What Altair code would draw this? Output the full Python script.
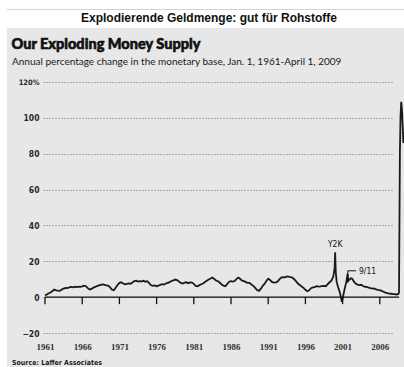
import altair as alt
import pandas as pd

# Annual % change in the U.S. monetary base, quarterly readings
# (with extra readings around the Y2K, 9/11 and 2008 spikes)
years = [
    1961.00, 1961.25, 1961.50, 1961.75, 1962.00, 1962.25, 1962.50, 1962.75,
    1963.00, 1963.25, 1963.50, 1963.75, 1964.00, 1964.25, 1964.50, 1964.75,
    1965.00, 1965.25, 1965.50, 1965.75, 1966.00, 1966.25, 1966.50, 1966.75,
    1967.00, 1967.25, 1967.50, 1967.75, 1968.00, 1968.25, 1968.50, 1968.75,
    1969.00, 1969.25, 1969.50, 1969.75, 1970.00, 1970.25, 1970.50, 1970.75,
    1971.00, 1971.25, 1971.50, 1971.75, 1972.00, 1972.25, 1972.50, 1972.75,
    1973.00, 1973.25, 1973.50, 1973.75, 1974.00, 1974.25, 1974.50, 1974.75,
    1975.00, 1975.25, 1975.50, 1975.75, 1976.00, 1976.25, 1976.50, 1976.75,
    1977.00, 1977.25, 1977.50, 1977.75, 1978.00, 1978.25, 1978.50, 1978.75,
    1979.00, 1979.25, 1979.50, 1979.75, 1980.00, 1980.25, 1980.50, 1980.75,
    1981.00, 1981.25, 1981.50, 1981.75, 1982.00, 1982.25, 1982.50, 1982.75,
    1983.00, 1983.25, 1983.50, 1983.75, 1984.00, 1984.25, 1984.50, 1984.75,
    1985.00, 1985.25, 1985.50, 1985.75, 1986.00, 1986.25, 1986.50, 1986.75,
    1987.00, 1987.25, 1987.50, 1987.75, 1988.00, 1988.25, 1988.50, 1988.75,
    1989.00, 1989.25, 1989.50, 1989.75, 1990.00, 1990.25, 1990.50, 1990.75,
    1991.00, 1991.25, 1991.50, 1991.75, 1992.00, 1992.25, 1992.50, 1992.75,
    1993.00, 1993.25, 1993.50, 1993.75, 1994.00, 1994.25, 1994.50, 1994.75,
    1995.00, 1995.25, 1995.50, 1995.75, 1996.00, 1996.25, 1996.50, 1996.75,
    1997.00, 1997.25, 1997.50, 1997.75, 1998.00, 1998.25, 1998.50, 1998.75,
    1999.00, 1999.25, 1999.50, 1999.75, 1999.92, 2000.00, 2000.08, 2000.20,
    2000.40, 2000.60, 2000.75, 2000.90, 2001.00, 2001.10, 2001.30, 2001.50,
    2001.67, 2001.75, 2001.90, 2002.10, 2002.30, 2002.50, 2002.75,
    2003.00, 2003.25, 2003.50, 2003.75, 2004.00, 2004.25, 2004.50, 2004.75,
    2005.00, 2005.25, 2005.50, 2005.75, 2006.00, 2006.25, 2006.50, 2006.75,
    2007.00, 2007.25, 2007.50, 2007.75, 2008.00, 2008.25, 2008.50, 2008.58,
    2008.64, 2008.70, 2008.78, 2008.88, 2009.00, 2009.08, 2009.17, 2009.25,
]
pct_change = [
    1.0, 1.5, 2.2, 2.6, 3.4, 4.2, 3.8, 3.6,
    3.5, 4.2, 4.8, 5.2, 5.0, 5.4, 5.7, 5.5,
    5.8, 5.6, 5.9, 5.7, 6.0, 6.4, 6.1, 5.0,
    4.3, 4.6, 5.3, 5.7, 6.2, 6.5, 6.8, 7.1,
    6.9, 6.6, 6.4, 5.4, 4.2, 3.9, 5.2, 6.8,
    8.0, 8.3, 7.6, 7.2, 7.4, 7.7, 7.5, 8.2,
    9.0, 9.2, 8.7, 8.9, 8.8, 9.1, 8.6, 8.9,
    7.8, 6.6, 6.3, 6.5, 6.0, 6.4, 6.9, 7.2,
    7.0, 7.6, 8.0, 8.4, 9.0, 9.4, 9.8, 9.5,
    8.7, 7.9, 7.6, 8.1, 8.3, 7.8, 8.2, 8.1,
    7.4, 6.3, 6.0, 6.7, 7.2, 7.6, 8.5, 9.2,
    9.8, 10.4, 10.9, 10.1, 9.3, 8.9, 8.0, 7.1,
    6.4, 6.1, 7.4, 8.6, 8.9, 8.7, 9.0, 10.2,
    10.9, 10.1, 9.2, 8.9, 8.4, 8.0, 7.9, 7.0,
    6.3, 5.2, 4.0, 3.5, 4.6, 6.2, 7.4, 9.0,
    10.3, 9.6, 8.5, 8.1, 8.3, 8.6, 9.9, 10.9,
    11.2, 11.0, 11.6, 11.4, 11.1, 10.9, 10.0, 8.8,
    7.6, 6.8, 5.9, 5.2, 4.1, 3.3, 3.8, 5.0,
    5.4, 5.6, 6.1, 5.9, 6.0, 6.2, 6.3, 6.1,
    7.2, 8.3, 9.2, 11.5, 16.0, 25.0, 14.0, 8.5,
    5.5, 3.0, 0.5, -2.6, -1.0, 1.2, 5.0, 8.5,
    13.0, 9.0, 9.8, 10.5, 10.2, 8.8, 7.6,
    7.0, 6.7, 6.9, 6.2, 5.8, 5.7, 5.3, 5.0,
    4.8, 4.9, 4.3, 4.0, 3.9, 3.5, 3.0, 2.5,
    2.3, 2.0, 1.9, 1.7, 1.7, 1.5, 1.8, 2.5,
    40.0, 80.0, 100.0, 109.0, 103.0, 95.0, 86.0, 92.0,
]

tick_years = [1961, 1966, 1971, 1976, 1981, 1986, 1991, 1996, 2001, 2006]
y_ticks = [-20, 0, 20, 40, 60, 80, 100, 120]

title_top = "Explodierende Geldmenge: gut für Rohstoffe"
headline = "Our Exploding Money Supply"
subhead = "Annual percentage change in the monetary base, Jan. 1, 1961-April 1, 2009"
source_note = "Source: Laffer Associates"

# annotation labels: text, year, value
y2k_label, y2k_year, y2k_value = "Y2K", 2000.0, 29.5
sep11_label, sep11_year, sep11_value = "9/11", 2003.2, 14.5
# leader line for the 9/11 label
leader_x = [2001.7, 2001.7]
leader_x2 = [2001.7, 2002.8]
leader_y = [10.5, 14.7]
leader_y2 = [14.7, 14.7]

# baseline span along zero
base_start, base_end = 1961.0, 2008.6

W, H = 350, 251
PANEL = "#e7e7e7"
SANS_COND = "DejaVu Sans Condensed, Liberation Sans Narrow, Liberation Sans, sans-serif"

series = pd.DataFrame({"year": years, "pct": pct_change})
ticks = pd.DataFrame({"year": tick_years, "y0": 0.0, "y1": -3.9})
note_y2k = pd.DataFrame({"label": [y2k_label], "year": [y2k_year], "pct": [y2k_value]})
note_911 = pd.DataFrame({"label": [sep11_label], "year": [sep11_year], "pct": [sep11_value]})
leaders = pd.DataFrame({"x": leader_x, "x2": leader_x2, "y": leader_y, "y2": leader_y2})
base = pd.DataFrame({"x": [base_start], "x2": [base_end], "y": [0.0]})
one = pd.DataFrame({"k": [0]})

xs = alt.Scale(domain=[1960.731, 2007.774], nice=False, zero=False)
ys = alt.Scale(domain=[-20, 120], nice=False, zero=False)

x_axis = alt.Axis(
    values=tick_years, format="d", domain=False, ticks=False, grid=False,
    labelPadding=9, labelFont="Liberation Serif", labelFontSize=9,
    labelFontWeight="bold", labelColor="#333333", labelFlush=False,
    labelOverlap=False, title=None,
)
y_axis = alt.Axis(
    values=y_ticks, domain=False, ticks=False, grid=True,
    gridDash=[1, 2], gridColor="#6a6a6a", gridWidth=1,
    labelPadding=4, labelFont=SANS_COND,
    labelFontSize={"condition": {"test": "datum.value == 120", "value": 7.5}, "value": 8.5},
    labelFontWeight="bold", labelColor="#2a2a2a", labelOverlap=False,
    labelExpr="datum.value == 120 ? '120%' : datum.label", title=None,
)

def X(field):
    return alt.X(field, type="quantitative", scale=xs, axis=x_axis)

def Y(field):
    return alt.Y(field, type="quantitative", scale=ys, axis=y_axis)

# white band for the headline above the grey panel, and white left margin
white_top = alt.Chart(one).mark_rect(color="white").encode(
    x=alt.value(-43), x2=alt.value(361), y=alt.value(-82), y2=alt.value(-54))
white_left = alt.Chart(one).mark_rect(color="white").encode(
    x=alt.value(-43), x2=alt.value(-36), y=alt.value(-82), y2=alt.value(285))
top_rule = alt.Chart(one).mark_rule(color="#d2d2d2", strokeWidth=1).encode(
    x=alt.value(-36), x2=alt.value(361), y=alt.value(-72.5))

line = alt.Chart(series).mark_line(color="#1a1a1a", strokeWidth=1.8).encode(
    x=X("year"), y=Y("pct"))

zero_line = alt.Chart(base).mark_rule(color="#111111", strokeWidth=1.4).encode(
    x=X("x"), x2="x2", y=Y("y"))

tick_marks = alt.Chart(ticks).mark_rule(color="#111111", strokeWidth=1.3).encode(
    x=X("year"), y=Y("y0"), y2="y1")

text_y2k = alt.Chart(note_y2k).mark_text(
    font=SANS_COND, fontSize=8.5, color="#111111",
    align="center", baseline="middle",
).encode(x=X("year"), y=Y("pct"), text="label:N")

text_911 = alt.Chart(note_911).mark_text(
    font=SANS_COND, fontSize=8.5, color="#111111",
    align="left", baseline="middle",
).encode(x=X("year"), y=Y("pct"), text="label:N")

leader_lines = alt.Chart(leaders).mark_rule(color="#111111", strokeWidth=1).encode(
    x=X("x"), x2="x2", y=Y("y"), y2="y2")

t_top = alt.Chart(one).mark_text(
    font="Liberation Sans", fontSize=12, fontWeight="bold", color="#111111",
    align="center", baseline="middle",
).encode(x=alt.value(166), y=alt.value(-64), text=alt.value(title_top))

# heavy headline: bold face thickened with a thin outline
t_head = alt.Chart(one).mark_text(
    font="Lato", fontSize=14.5, fontWeight=900, color="#111111",
    stroke="#111111", strokeWidth=0.6,
    align="left", baseline="alphabetic",
).encode(x=alt.value(-31.5), y=alt.value(-33.5), text=alt.value(headline))

t_sub = alt.Chart(one).mark_text(
    font="Lato", fontSize=10, color="#1a1a1a",
    align="left", baseline="alphabetic",
).encode(x=alt.value(-31), y=alt.value(-17), text=alt.value(subhead))

t_src = alt.Chart(one).mark_text(
    font=SANS_COND, fontSize=7, fontWeight="bold", color="#1a1a1a",
    align="left", baseline="alphabetic",
).encode(x=alt.value(-31), y=alt.value(283), text=alt.value(source_note))

chart = alt.layer(
    white_top, white_left, top_rule,
    line, zero_line, tick_marks, leader_lines, text_y2k, text_911,
    t_top, t_head, t_sub, t_src,
).properties(
    width=W, height=H,
    padding={"left": 43, "top": 82, "right": 11, "bottom": 34},
    autosize=alt.AutoSizeParams(type="none"),
    background=PANEL,
).configure_view(stroke=None)

chart.save("out.html", embed_options={"renderer": "svg", "actions": False})
